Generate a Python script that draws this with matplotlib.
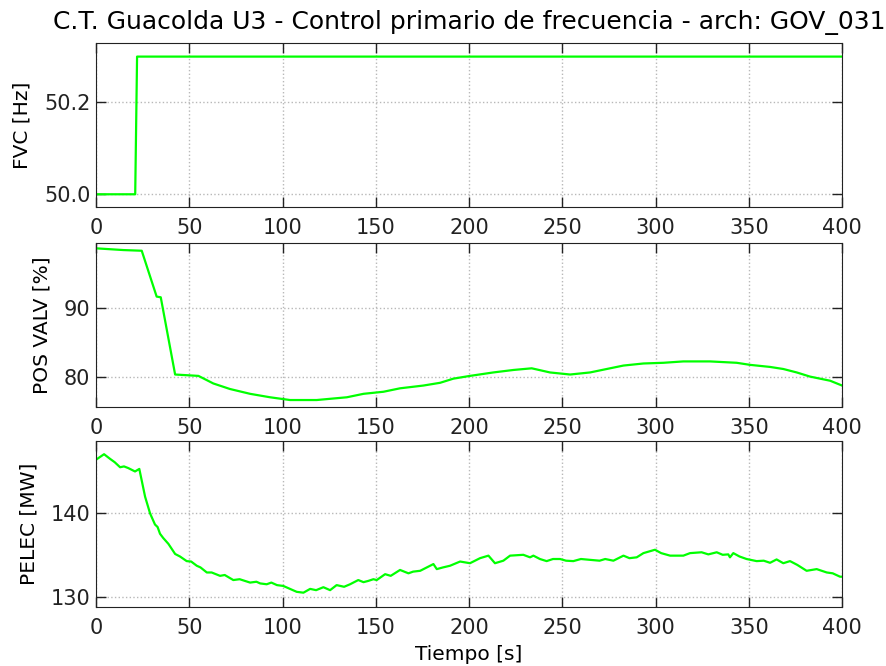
import numpy as np
import matplotlib
matplotlib.use("Agg")
import matplotlib.pyplot as plt

# FVC step
t_fvc = [0, 21, 22, 400]
fvc = [50.0, 50.0, 50.3, 50.3]

# valve position
t_valv = [0, 14.6, 24.5, 32.5, 34.7, 42.4, 54.9, 62.9, 71.8, 82.6, 93.3, 104, 118.3,
          134.5, 143.4, 154.1, 163, 175.5, 184.5, 191.6, 200.5, 213, 223.8, 233.6,
          243.4, 254.2, 264.9, 275.6, 282.8, 293.5, 304.2, 314.9, 329.2, 343.5,
          350.7, 361.4, 368.5, 375.7, 382.8, 393.6, 400]
pos_valv = [98.7, 98.45, 98.35, 91.7, 91.6, 80.4, 80.2, 79.1, 78.3, 77.6, 77.1, 76.7, 76.7,
            77.1, 77.6, 77.9, 78.4, 78.8, 79.2, 79.8, 80.2, 80.7, 81.06, 81.3,
            80.7, 80.4, 80.7, 81.3, 81.7, 82.0, 82.1, 82.3, 82.3, 82.1,
            81.8, 81.5, 81.2, 80.7, 80.1, 79.5, 78.8]

# electrical power
t_pel = [0, 4.3, 7.5, 10, 12.9, 15, 17.3, 20.9, 23.2, 26.3, 29, 31.6, 33, 34.3, 36, 38.8,
         42.4, 45, 48.6, 51, 54, 56, 59.4, 62, 66.5, 69, 73.6, 77, 82.6, 86, 88, 91.5,
         94, 97, 100.4, 104, 107.6, 111.2, 114.8, 118, 121.9, 125.5, 129, 133, 136.2,
         140.6, 143.4, 146, 148.7, 150.5, 155, 158, 163, 167.5, 170, 173.8,
         180.9, 182.7, 186, 189.8, 195.2, 200.5, 205.9, 210.4, 213.9, 218.4, 222, 229.1,
         232.7, 234.5, 238, 241.6, 245, 248.8, 252, 255.9, 260, 264.9, 270, 273,
         277.4, 282.8, 286, 289.9, 293.5, 299.7, 303, 307.8, 314.9, 318.5, 324.7,
         328.3, 332.8, 336, 339, 339.9, 341.7, 345, 348.8, 354.2, 358, 361.4, 364.9,
         368.5, 372.1, 376, 381, 386.4, 391.8, 395, 398.9, 400]
pelec = [146.3, 146.95, 146.4, 146.0, 145.4, 145.5, 145.3, 144.9, 145.2, 141.9, 139.9,
         138.6, 138.3, 137.5, 137.0, 136.3, 135.1, 134.8, 134.25, 134.2, 133.7, 133.5,
         132.9, 132.9, 132.5, 132.6, 132.0, 132.1, 131.7, 131.8, 131.6, 131.5,
         131.7, 131.4, 131.3, 130.95, 130.6, 130.5, 130.95, 130.8, 131.15, 130.8,
         131.4, 131.2, 131.5, 132.0, 131.75, 131.9, 132.1, 132.0, 132.7, 132.5, 133.2,
         132.8, 133.0, 133.1, 133.9, 133.3, 133.5, 133.7, 134.2, 134.0, 134.6,
         134.9, 134.0, 134.3, 134.9, 135.0, 134.7, 134.9, 134.5, 134.25, 134.5,
         134.5, 134.3, 134.25, 134.5, 134.4, 134.3, 134.5, 134.3, 134.9, 134.6,
         134.7, 135.2, 135.6, 135.2, 134.9, 134.9, 135.2, 135.3, 135.05, 135.3,
         135.0, 135.05, 134.7, 135.2, 134.8, 134.5, 134.25, 134.3, 134.05, 134.45,
         134.0, 134.25, 133.8, 133.1, 133.3, 132.9, 132.8, 132.4, 132.4]

fig = plt.figure(figsize=(8.86, 6.66), dpi=100)
ax1 = fig.add_axes([0.1084, 0.689, 0.842, 0.246])
ax2 = fig.add_axes([0.1084, 0.389, 0.842, 0.246])
ax3 = fig.add_axes([0.1084, 0.0886, 0.842, 0.249])

panels = [(ax1, t_fvc, fvc, 'FVC [Hz]', (49.972, 50.329), [50.0, 50.2], ['50.0', '50.2']),
          (ax2, t_valv, pos_valv, 'POS VALV [%]', (75.7, 99.46), [80, 90], ['80', '90']),
          (ax3, t_pel, pelec, 'PELEC [MW]', (128.8, 148.5), [130, 140], ['130', '140'])]

for ax, t, y, lab, yl, yt, ytl in panels:
    ax.plot(t, y, color='#00ff00', lw=1.6)
    ax.set_xlim(0, 400)
    ax.set_ylim(*yl)
    ax.set_yticks(yt)
    ax.set_yticklabels(ytl)
    ax.set_xticks(np.arange(0, 401, 50))
    ax.set_ylabel(lab, fontsize=14.5, labelpad=9)
    ax.grid(True, linestyle=':', color='#b8b8b8', lw=1)
    ax.tick_params(direction='in', top=True, right=True, length=7, width=1,
                   labelsize=15, colors='#222222', pad=4)
    ax.tick_params(axis='x', pad=8)
    for s in ax.spines.values():
        s.set_color('#222222')

ax1.set_title('C.T. Guacolda U3 - Control primario de frecuencia - arch: GOV_031',
              fontsize=18, pad=10)
ax3.set_xlabel('Tiempo [s]', fontsize=14.5, labelpad=5)

fig.savefig('out.png', dpi=100)
